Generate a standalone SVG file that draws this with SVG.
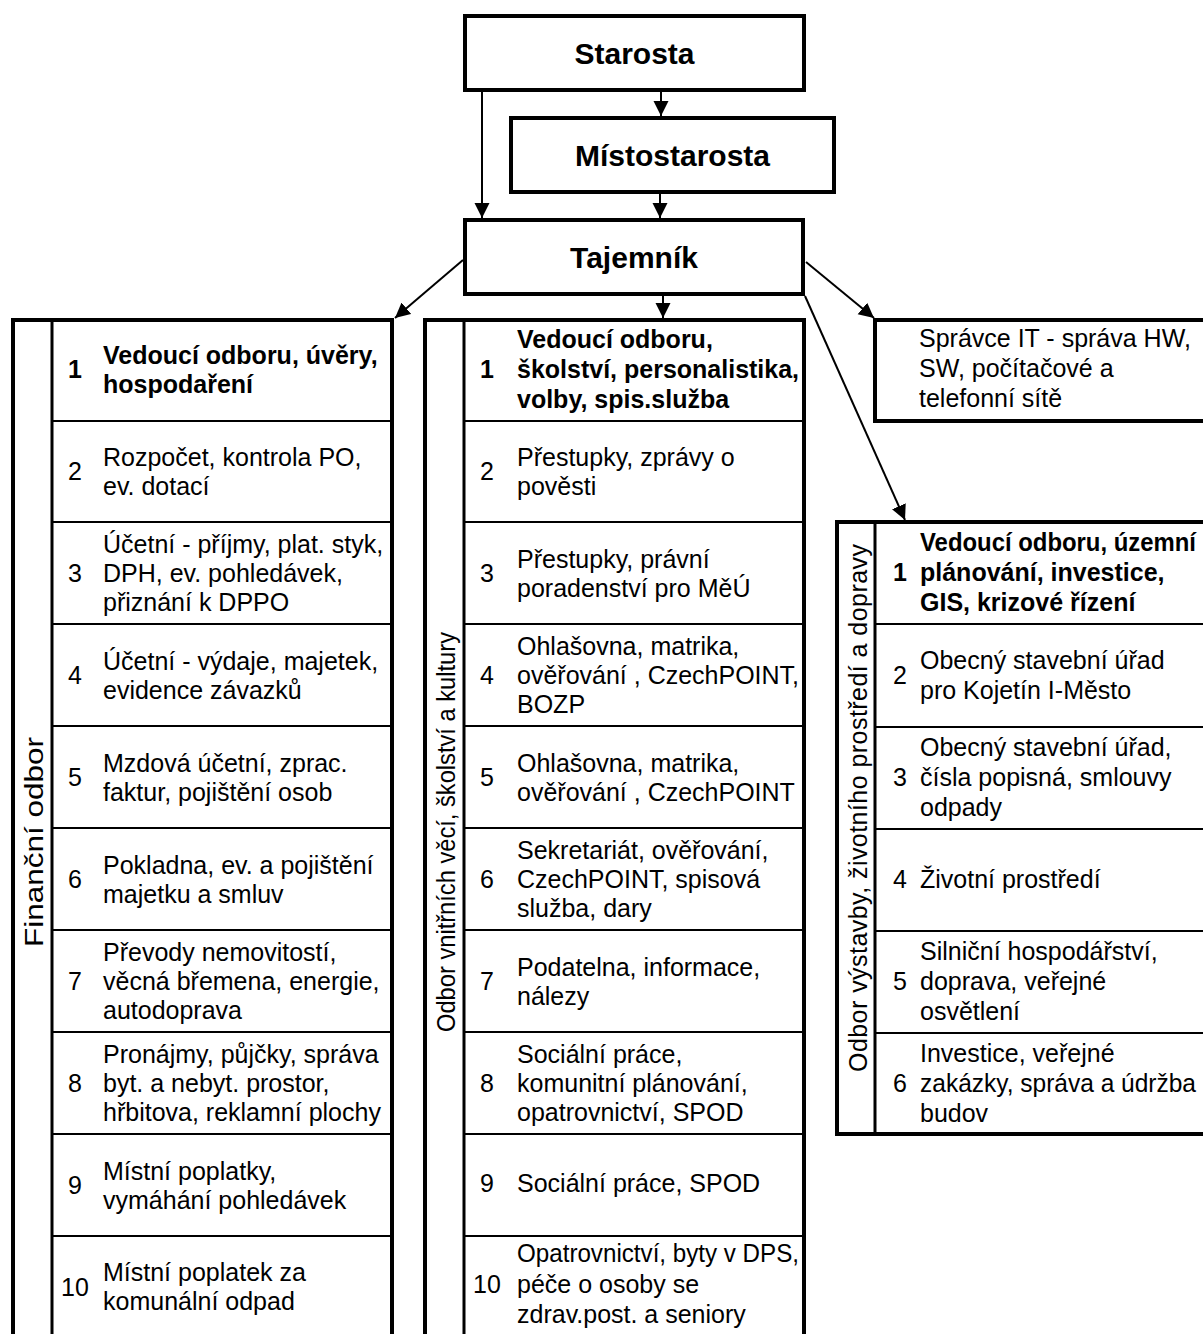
<svg xmlns="http://www.w3.org/2000/svg" width="1203" height="1334" viewBox="0 0 1203 1334">
<defs>
<style>
text{font-family:"Liberation Sans",Arial,sans-serif;fill:#000}
.t{font-size:25px}
.b{font-size:25px;font-weight:bold}
.h{font-size:30px;font-weight:bold;text-anchor:middle}
.n{font-size:25px;text-anchor:middle}
.nb{font-size:25px;font-weight:bold;text-anchor:middle}
.v{font-size:25px;text-anchor:middle}
.box{fill:#fff;stroke:#000;stroke-width:4}
.div{stroke:#000;stroke-width:3;fill:none}
.row{stroke:#000;stroke-width:2;fill:none}
.c{stroke:#000;stroke-width:2;fill:none;marker-end:url(#ah)}
</style>
<marker id="ah" markerUnits="userSpaceOnUse" markerWidth="16" markerHeight="16" refX="15" refY="7.5" orient="auto">
<path d="M0,0 L15,7.5 L0,15 z" fill="#000"/>
</marker>
</defs>
<rect width="1203" height="1334" fill="#fff"/>

<g id="starosta">
<rect class="box" x="465" y="16" width="339" height="74"/>
<text class="h" x="634.5" y="64">Starosta</text>
</g>
<g id="mistostarosta">
<rect class="box" x="511" y="118" width="323" height="74"/>
<text class="h" x="672.5" y="166">Místostarosta</text>
</g>
<g id="tajemnik">
<rect class="box" x="465" y="220" width="338" height="74"/>
<text class="h" x="634" y="268">Tajemník</text>
</g>

<g id="financni-odbor">
<rect class="box" x="13" y="320" width="379" height="1100"/>
<line class="div" x1="52" y1="320" x2="52" y2="1340"/>
<g class="row">
<line x1="52" y1="421" x2="392" y2="421"/>
<line x1="52" y1="522" x2="392" y2="522"/>
<line x1="52" y1="624" x2="392" y2="624"/>
<line x1="52" y1="726" x2="392" y2="726"/>
<line x1="52" y1="828" x2="392" y2="828"/>
<line x1="52" y1="930" x2="392" y2="930"/>
<line x1="52" y1="1032" x2="392" y2="1032"/>
<line x1="52" y1="1134" x2="392" y2="1134"/>
<line x1="52" y1="1236" x2="392" y2="1236"/>
</g>
<text class="v" style="font-size:26px" transform="translate(43,842) rotate(-90)" textLength="210" lengthAdjust="spacingAndGlyphs">Finanční odbor</text>
<text class="nb" x="75" y="378">1</text>
<text class="b" x="103" y="364">Vedoucí odboru, úvěry,</text>
<text class="b" x="103" y="393">hospodaření</text>
<text class="n" x="75" y="480">2</text>
<text class="t" x="103" y="466">Rozpočet, kontrola PO,</text>
<text class="t" x="103" y="495">ev. dotací</text>
<text class="n" x="75" y="582">3</text>
<text class="t" x="103" y="553">Účetní - příjmy, plat. styk,</text>
<text class="t" x="103" y="582">DPH, ev. pohledávek,</text>
<text class="t" x="103" y="611">přiznání k DPPO</text>
<text class="n" x="75" y="684">4</text>
<text class="t" x="103" y="670">Účetní - výdaje, majetek,</text>
<text class="t" x="103" y="699">evidence závazků</text>
<text class="n" x="75" y="786">5</text>
<text class="t" x="103" y="772">Mzdová účetní, zprac.</text>
<text class="t" x="103" y="801">faktur, pojištění osob</text>
<text class="n" x="75" y="888">6</text>
<text class="t" x="103" y="874">Pokladna, ev. a pojištění</text>
<text class="t" x="103" y="903">majetku a smluv</text>
<text class="n" x="75" y="990">7</text>
<text class="t" x="103" y="961">Převody nemovitostí,</text>
<text class="t" x="103" y="990">věcná břemena, energie,</text>
<text class="t" x="103" y="1019">autodoprava</text>
<text class="n" x="75" y="1092">8</text>
<text class="t" x="103" y="1063">Pronájmy, půjčky, správa</text>
<text class="t" x="103" y="1092">byt. a nebyt. prostor,</text>
<text class="t" x="103" y="1121">hřbitova, reklamní plochy</text>
<text class="n" x="75" y="1194">9</text>
<text class="t" x="103" y="1180">Místní poplatky,</text>
<text class="t" x="103" y="1209">vymáhání pohledávek</text>
<text class="n" x="75" y="1296">10</text>
<text class="t" x="103" y="1281">Místní poplatek za</text>
<text class="t" x="103" y="1310">komunální odpad</text>
</g>

<g id="odbor-vnitrnich-veci">
<rect class="box" x="425" y="320" width="379" height="1100"/>
<line class="div" x1="464" y1="320" x2="464" y2="1340"/>
<g class="row">
<line x1="464" y1="421" x2="804" y2="421"/>
<line x1="464" y1="522" x2="804" y2="522"/>
<line x1="464" y1="624" x2="804" y2="624"/>
<line x1="464" y1="726" x2="804" y2="726"/>
<line x1="464" y1="828" x2="804" y2="828"/>
<line x1="464" y1="930" x2="804" y2="930"/>
<line x1="464" y1="1032" x2="804" y2="1032"/>
<line x1="464" y1="1134" x2="804" y2="1134"/>
<line x1="464" y1="1236" x2="804" y2="1236"/>
</g>
<text class="v" transform="translate(455,832) rotate(-90)" textLength="400" lengthAdjust="spacingAndGlyphs">Odbor vnitřních věcí, školství a kultury</text>
<text class="nb" x="487" y="378">1</text>
<text class="b" x="517" y="348">Vedoucí odboru,</text>
<text class="b" x="517" y="378">školství, personalistika,</text>
<text class="b" x="517" y="408">volby, spis.služba</text>
<text class="n" x="487" y="480">2</text>
<text class="t" x="517" y="466">Přestupky, zprávy o</text>
<text class="t" x="517" y="495">pověsti</text>
<text class="n" x="487" y="582">3</text>
<text class="t" x="517" y="568">Přestupky, právní</text>
<text class="t" x="517" y="597">poradenství pro MěÚ</text>
<text class="n" x="487" y="684">4</text>
<text class="t" x="517" y="655">Ohlašovna, matrika,</text>
<text class="t" x="517" y="684">ověřování , CzechPOINT,</text>
<text class="t" x="517" y="713">BOZP</text>
<text class="n" x="487" y="786">5</text>
<text class="t" x="517" y="772">Ohlašovna, matrika,</text>
<text class="t" x="517" y="801">ověřování , CzechPOINT</text>
<text class="n" x="487" y="888">6</text>
<text class="t" x="517" y="859">Sekretariát, ověřování,</text>
<text class="t" x="517" y="888">CzechPOINT, spisová</text>
<text class="t" x="517" y="917">služba, dary</text>
<text class="n" x="487" y="990">7</text>
<text class="t" x="517" y="976">Podatelna, informace,</text>
<text class="t" x="517" y="1005">nálezy</text>
<text class="n" x="487" y="1092">8</text>
<text class="t" x="517" y="1063">Sociální práce,</text>
<text class="t" x="517" y="1092">komunitní plánování,</text>
<text class="t" x="517" y="1121">opatrovnictví, SPOD</text>
<text class="n" x="487" y="1192">9</text>
<text class="t" x="517" y="1192">Sociální práce, SPOD</text>
<text class="n" x="487" y="1293">10</text>
<text class="t" x="517" y="1262" textLength="282" lengthAdjust="spacingAndGlyphs">Opatrovnictví, byty v DPS,</text>
<text class="t" x="517" y="1293">péče o osoby se</text>
<text class="t" x="517" y="1323">zdrav.post. a seniory</text>
</g>

<g id="spravce-it">
<rect class="box" x="875" y="320" width="400" height="101"/>
<text class="t" x="919" y="347">Správce IT - správa HW,</text>
<text class="t" x="919" y="377">SW, počítačové a</text>
<text class="t" x="919" y="407">telefonní sítě</text>
</g>

<g id="odbor-vystavby">
<rect class="box" x="837" y="522" width="400" height="612"/>
<line class="div" x1="875" y1="522" x2="875" y2="1134"/>
<g class="row">
<line x1="875" y1="624" x2="1210" y2="624"/>
<line x1="875" y1="727" x2="1210" y2="727"/>
<line x1="875" y1="829" x2="1210" y2="829"/>
<line x1="875" y1="931" x2="1210" y2="931"/>
<line x1="875" y1="1033" x2="1210" y2="1033"/>
</g>
<text class="v" transform="translate(867,808) rotate(-90)" textLength="528" lengthAdjust="spacing">Odbor výstavby, životního prostředí a dopravy</text>
<text class="nb" x="900" y="581">1</text>
<text class="b" x="920" y="551" textLength="276" lengthAdjust="spacingAndGlyphs">Vedoucí odboru, územní</text>
<text class="b" x="920" y="581">plánování, investice,</text>
<text class="b" x="920" y="611">GIS, krizové řízení</text>
<text class="n" x="900" y="684">2</text>
<text class="t" x="920" y="669">Obecný stavební úřad</text>
<text class="t" x="920" y="699">pro Kojetín I-Město</text>
<text class="n" x="900" y="786">3</text>
<text class="t" x="920" y="756">Obecný stavební úřad,</text>
<text class="t" x="920" y="786">čísla popisná, smlouvy</text>
<text class="t" x="920" y="816">odpady</text>
<text class="n" x="900" y="888">4</text>
<text class="t" x="920" y="888">Životní prostředí</text>
<text class="n" x="900" y="990">5</text>
<text class="t" x="920" y="960">Silniční hospodářství,</text>
<text class="t" x="920" y="990">doprava, veřejné</text>
<text class="t" x="920" y="1020">osvětlení</text>
<text class="n" x="900" y="1092">6</text>
<text class="t" x="920" y="1062">Investice, veřejné</text>
<text class="t" x="920" y="1092" textLength="276" lengthAdjust="spacingAndGlyphs">zakázky, správa a údržba</text>
<text class="t" x="920" y="1122">budov</text>
</g>

<g id="connectors">
<line class="c" x1="661" y1="92" x2="661" y2="116"/>
<line class="c" x1="482" y1="92" x2="482" y2="218"/>
<line class="c" x1="660" y1="194" x2="660" y2="218"/>
<line class="c" x1="663" y1="296" x2="663" y2="318"/>
<line class="c" x1="463" y1="260" x2="395" y2="318"/>
<line class="c" x1="806" y1="262" x2="874" y2="318"/>
<line class="c" x1="805" y1="296" x2="905" y2="520"/>
</g>
</svg>
